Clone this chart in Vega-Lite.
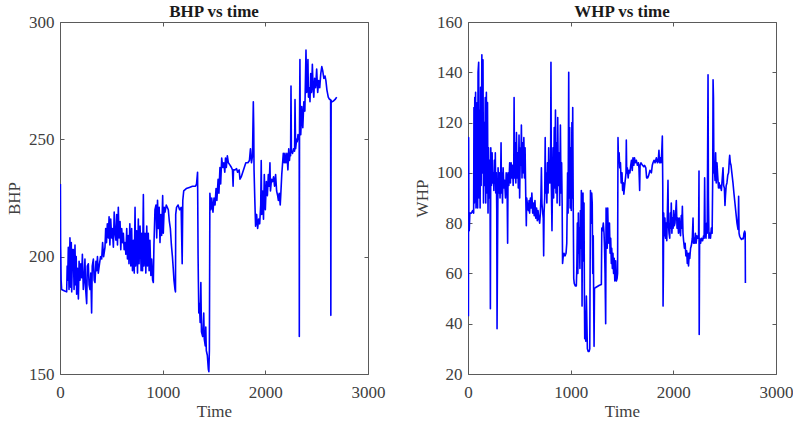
{
  "$schema": "https://vega.github.io/schema/vega-lite/v6.json",
  "background": "white",
  "padding": {"left": 5, "top": 2, "right": 0, "bottom": 3},
  "spacing": 100,
  "bounds": "flush",
  "config": {
    "font": "Liberation Serif",
    "view": {"stroke": "#5a5a5a", "strokeWidth": 1},
    "title": {"font": "Liberation Serif", "fontSize": 17, "fontWeight": "bold", "color": "#1a1a1a", "offset": -8, "frame": "group", "baseline": "alphabetic"},
    "axis": {
      "grid": false, "domain": false, "ticks": true, "tickSize": -4, "tickColor": "#5a5a5a", "tickWidth": 1,
      "labelFont": "Liberation Serif", "labelFontSize": 17, "labelColor": "#404040",
      "labelFlush": false, "labelOverlap": false, "minExtent": 0, "format": "d",
      "titleFont": "Liberation Serif", "titleFontSize": 17, "titleFontWeight": "normal", "titleColor": "#404040"
    },
    "axisX": {"labelPadding": 14, "titlePadding": 3},
    "axisY": {"labelPadding": 10, "titlePadding": 5}
  },
  "datasets": {
    "bhp": [
      {"t":4,"v":231},{"t":6,"v":205},{"t":8,"v":200},{"t":11,"v":190},{"t":16,"v":186},{"t":40,"v":185.5},{"t":65,"v":185},{"t":70,"v":196},{"t":75,"v":190},{"t":81,"v":204},{"t":88,"v":186},{"t":97,"v":208},{"t":104,"v":187},{"t":110,"v":206},{"t":114,"v":185},{"t":122,"v":203},{"t":130,"v":203},{"t":137,"v":186},{"t":146,"v":205},{"t":152,"v":188},{"t":158,"v":200},{"t":162,"v":184},{"t":170,"v":195},{"t":179,"v":182},{"t":186,"v":198},{"t":195,"v":190},{"t":203,"v":197},{"t":211,"v":191},{"t":218,"v":201},{"t":227,"v":186},{"t":235,"v":190},{"t":243,"v":199},{"t":250,"v":186},{"t":260,"v":180},{"t":266,"v":196},{"t":276,"v":197},{"t":283,"v":188},{"t":292,"v":186},{"t":300,"v":193},{"t":308,"v":176},{"t":314,"v":196},{"t":325,"v":199},{"t":333,"v":190},{"t":341,"v":189},{"t":350,"v":198},{"t":357,"v":194},{"t":365,"v":200},{"t":373,"v":193},{"t":385,"v":197},{"t":395,"v":200},{"t":406,"v":199},{"t":415,"v":206},{"t":425,"v":200},{"t":438,"v":204},{"t":445,"v":212},{"t":453,"v":206},{"t":461,"v":214},{"t":471,"v":208},{"t":478,"v":217},{"t":486,"v":205},{"t":494,"v":216},{"t":503,"v":208},{"t":510,"v":212},{"t":520,"v":204},{"t":528,"v":219},{"t":536,"v":210},{"t":545,"v":207},{"t":552,"v":218},{"t":560,"v":205},{"t":568,"v":221},{"t":575,"v":208},{"t":585,"v":215},{"t":592,"v":203},{"t":601,"v":212},{"t":610,"v":206},{"t":617,"v":210},{"t":625,"v":203},{"t":633,"v":206},{"t":642,"v":201},{"t":650,"v":212},{"t":657,"v":199},{"t":666,"v":209},{"t":672,"v":197},{"t":680,"v":214},{"t":690,"v":196},{"t":698,"v":212},{"t":706,"v":194},{"t":715,"v":207},{"t":723,"v":193},{"t":731,"v":221},{"t":737,"v":196},{"t":747,"v":211},{"t":755,"v":193},{"t":763,"v":216},{"t":770,"v":197},{"t":780,"v":213},{"t":790,"v":194},{"t":796,"v":210},{"t":804,"v":194},{"t":812,"v":226.5},{"t":818,"v":196},{"t":828,"v":210},{"t":836,"v":193},{"t":845,"v":213},{"t":852,"v":196},{"t":860,"v":210},{"t":868,"v":194},{"t":876,"v":207},{"t":885,"v":192},{"t":893,"v":199},{"t":902,"v":190},{"t":909,"v":189},{"t":915,"v":205},{"t":925,"v":220},{"t":935,"v":222},{"t":942,"v":208},{"t":950,"v":224},{"t":958,"v":212},{"t":966,"v":221},{"t":974,"v":206},{"t":982,"v":218},{"t":990,"v":209},{"t":1000,"v":226},{"t":1006,"v":210},{"t":1015,"v":221},{"t":1023,"v":219},{"t":1035,"v":222},{"t":1045,"v":221},{"t":1055,"v":220},{"t":1065,"v":215},{"t":1075,"v":212},{"t":1085,"v":205},{"t":1095,"v":200},{"t":1103,"v":195},{"t":1110,"v":190},{"t":1120,"v":186},{"t":1125,"v":185},{"t":1127,"v":218},{"t":1135,"v":221},{"t":1150,"v":222},{"t":1165,"v":220},{"t":1180,"v":221},{"t":1190,"v":197},{"t":1196,"v":224},{"t":1205,"v":228},{"t":1230,"v":229},{"t":1260,"v":229.5},{"t":1290,"v":230},{"t":1320,"v":230},{"t":1330,"v":231},{"t":1340,"v":236},{"t":1345,"v":200},{"t":1348,"v":189},{"t":1352,"v":176},{"t":1358,"v":180},{"t":1365,"v":172},{"t":1372,"v":189},{"t":1378,"v":168},{"t":1390,"v":166},{"t":1400,"v":176},{"t":1405,"v":165},{"t":1415,"v":162},{"t":1420,"v":170},{"t":1425,"v":160},{"t":1435,"v":158},{"t":1445,"v":152},{"t":1450,"v":151},{"t":1455,"v":160},{"t":1460,"v":227},{"t":1470,"v":220},{"t":1478,"v":225},{"t":1490,"v":219},{"t":1500,"v":225},{"t":1510,"v":222},{"t":1520,"v":229},{"t":1528,"v":224},{"t":1540,"v":233},{"t":1548,"v":227},{"t":1558,"v":238},{"t":1565,"v":231},{"t":1575,"v":242},{"t":1585,"v":238},{"t":1595,"v":240},{"t":1605,"v":236},{"t":1612,"v":242},{"t":1620,"v":238},{"t":1630,"v":243},{"t":1640,"v":240},{"t":1656,"v":239},{"t":1670,"v":238},{"t":1680,"v":237},{"t":1686,"v":230},{"t":1690,"v":237},{"t":1705,"v":237},{"t":1720,"v":237.5},{"t":1730,"v":236},{"t":1745,"v":237},{"t":1753,"v":233},{"t":1765,"v":234},{"t":1780,"v":236},{"t":1795,"v":238},{"t":1810,"v":240},{"t":1830,"v":240},{"t":1845,"v":241},{"t":1855,"v":246},{"t":1865,"v":240},{"t":1875,"v":243},{"t":1883,"v":266},{"t":1887,"v":255},{"t":1890,"v":237},{"t":1897,"v":225},{"t":1905,"v":213},{"t":1915,"v":218},{"t":1925,"v":212},{"t":1935,"v":216},{"t":1945,"v":214},{"t":1955,"v":222},{"t":1960,"v":241},{"t":1965,"v":218},{"t":1975,"v":228},{"t":1982,"v":216},{"t":1990,"v":235},{"t":2000,"v":220},{"t":2010,"v":232},{"t":2020,"v":226},{"t":2029,"v":235},{"t":2037,"v":230},{"t":2045,"v":240},{"t":2050,"v":228},{"t":2060,"v":233},{"t":2070,"v":232},{"t":2080,"v":234},{"t":2090,"v":230},{"t":2100,"v":235},{"t":2110,"v":228},{"t":2120,"v":226},{"t":2127,"v":224},{"t":2135,"v":227},{"t":2145,"v":222},{"t":2150,"v":226},{"t":2160,"v":235},{"t":2175,"v":244},{"t":2185,"v":240},{"t":2191,"v":244},{"t":2200,"v":240},{"t":2210,"v":244},{"t":2220,"v":237},{"t":2228,"v":246},{"t":2235,"v":241},{"t":2240,"v":244},{"t":2246,"v":243},{"t":2250,"v":272.7},{"t":2254,"v":245},{"t":2265,"v":244},{"t":2275,"v":246},{"t":2285,"v":245},{"t":2289,"v":267},{"t":2295,"v":246},{"t":2305,"v":250},{"t":2311,"v":249},{"t":2318,"v":252},{"t":2325,"v":250},{"t":2330,"v":250},{"t":2331,"v":166},{"t":2333,"v":255},{"t":2337,"v":284},{"t":2340,"v":260},{"t":2345,"v":252},{"t":2355,"v":264},{"t":2365,"v":255},{"t":2375,"v":266},{"t":2385,"v":262},{"t":2396,"v":288},{"t":2403,"v":270},{"t":2410,"v":275},{"t":2415,"v":284},{"t":2420,"v":268},{"t":2428,"v":272},{"t":2435,"v":266},{"t":2442,"v":278},{"t":2450,"v":270},{"t":2458,"v":282},{"t":2465,"v":272},{"t":2472,"v":268},{"t":2480,"v":276},{"t":2490,"v":272},{"t":2500,"v":280},{"t":2510,"v":270},{"t":2520,"v":275},{"t":2530,"v":272},{"t":2540,"v":278},{"t":2550,"v":281},{"t":2560,"v":279},{"t":2570,"v":276},{"t":2581,"v":277},{"t":2590,"v":275},{"t":2600,"v":271},{"t":2613,"v":268},{"t":2625,"v":267},{"t":2636,"v":267},{"t":2638,"v":175},{"t":2641,"v":266.5},{"t":2650,"v":266},{"t":2662,"v":266.3},{"t":2680,"v":267},{"t":2695,"v":268}
    ],
    "whp": [
      {"t":4,"v":43},{"t":6,"v":114},{"t":9,"v":78},{"t":12,"v":77},{"t":18,"v":84},{"t":33,"v":84},{"t":45,"v":85},{"t":55,"v":84},{"t":58,"v":126},{"t":62,"v":88},{"t":66,"v":130},{"t":70,"v":90},{"t":74,"v":132},{"t":78,"v":86},{"t":82,"v":120},{"t":86,"v":92},{"t":90,"v":128},{"t":94,"v":86},{"t":98,"v":140},{"t":104,"v":144},{"t":108,"v":90},{"t":113,"v":125},{"t":118,"v":86},{"t":123,"v":134},{"t":128,"v":95},{"t":135,"v":147},{"t":140,"v":100},{"t":146,"v":145},{"t":151,"v":88},{"t":157,"v":120},{"t":163,"v":95},{"t":168,"v":130},{"t":173,"v":88},{"t":179,"v":132},{"t":184,"v":92},{"t":190,"v":128},{"t":195,"v":84},{"t":200,"v":110},{"t":206,"v":90},{"t":211,"v":105},{"t":215,"v":92},{"t":218,"v":46},{"t":222,"v":110},{"t":228,"v":95},{"t":235,"v":108},{"t":240,"v":96},{"t":247,"v":100},{"t":252,"v":93},{"t":257,"v":105},{"t":262,"v":96},{"t":266,"v":108},{"t":270,"v":92},{"t":276,"v":100},{"t":280,"v":85},{"t":283,"v":38},{"t":287,"v":65},{"t":293,"v":102},{"t":300,"v":92},{"t":306,"v":100},{"t":312,"v":90},{"t":318,"v":98},{"t":322,"v":112},{"t":326,"v":92},{"t":330,"v":100},{"t":336,"v":88},{"t":342,"v":102},{"t":350,"v":94},{"t":357,"v":97},{"t":365,"v":90},{"t":372,"v":100},{"t":380,"v":98},{"t":386,"v":72},{"t":390,"v":100},{"t":398,"v":95},{"t":406,"v":104},{"t":413,"v":96},{"t":420,"v":104},{"t":428,"v":98},{"t":435,"v":103},{"t":440,"v":95},{"t":446,"v":104},{"t":449,"v":130},{"t":453,"v":98},{"t":460,"v":112},{"t":466,"v":96},{"t":472,"v":116},{"t":478,"v":98},{"t":485,"v":108},{"t":490,"v":94},{"t":497,"v":115},{"t":503,"v":90},{"t":510,"v":110},{"t":515,"v":103},{"t":520,"v":119},{"t":526,"v":98},{"t":532,"v":112},{"t":538,"v":100},{"t":544,"v":114},{"t":550,"v":98},{"t":556,"v":110},{"t":562,"v":92},{"t":568,"v":79},{"t":572,"v":90},{"t":580,"v":87},{"t":588,"v":85},{"t":595,"v":89},{"t":600,"v":84},{"t":608,"v":90},{"t":615,"v":86},{"t":622,"v":92},{"t":630,"v":84},{"t":638,"v":88},{"t":645,"v":83},{"t":652,"v":89},{"t":660,"v":82},{"t":668,"v":86},{"t":675,"v":81},{"t":682,"v":85},{"t":690,"v":82},{"t":698,"v":80},{"t":705,"v":84},{"t":710,"v":90},{"t":715,"v":102},{"t":720,"v":88},{"t":728,"v":84},{"t":733,"v":82},{"t":737,"v":67},{"t":741,"v":84},{"t":747,"v":90},{"t":752,"v":114},{"t":756,"v":92},{"t":762,"v":100},{"t":768,"v":88},{"t":774,"v":104},{"t":780,"v":92},{"t":786,"v":110},{"t":792,"v":96},{"t":798,"v":105},{"t":804,"v":96},{"t":808,"v":144},{"t":812,"v":95},{"t":818,"v":77},{"t":822,"v":92},{"t":828,"v":110},{"t":834,"v":90},{"t":840,"v":118},{"t":845,"v":94},{"t":852,"v":125},{"t":857,"v":92},{"t":863,"v":112},{"t":868,"v":88},{"t":874,"v":122},{"t":880,"v":95},{"t":886,"v":108},{"t":893,"v":87},{"t":900,"v":119},{"t":906,"v":92},{"t":912,"v":104},{"t":917,"v":88},{"t":921,"v":64},{"t":928,"v":67},{"t":935,"v":68},{"t":945,"v":67},{"t":955,"v":68},{"t":962,"v":72},{"t":970,"v":100},{"t":975,"v":84},{"t":981,"v":140},{"t":985,"v":90},{"t":990,"v":118},{"t":995,"v":86},{"t":1000,"v":110},{"t":1006,"v":85},{"t":1012,"v":120},{"t":1016,"v":90},{"t":1020,"v":126},{"t":1025,"v":86},{"t":1030,"v":58},{"t":1035,"v":56},{"t":1045,"v":55},{"t":1055,"v":55},{"t":1060,"v":62},{"t":1065,"v":80},{"t":1070,"v":60},{"t":1075,"v":84},{"t":1080,"v":68},{"t":1085,"v":78},{"t":1090,"v":62},{"t":1095,"v":85},{"t":1100,"v":70},{"t":1104,"v":93},{"t":1108,"v":80},{"t":1111,"v":47},{"t":1115,"v":80},{"t":1120,"v":92},{"t":1125,"v":65},{"t":1130,"v":88},{"t":1134,"v":50},{"t":1137,"v":34},{"t":1142,"v":45},{"t":1147,"v":33},{"t":1153,"v":51},{"t":1158,"v":40},{"t":1163,"v":30},{"t":1170,"v":29},{"t":1180,"v":29},{"t":1186,"v":30},{"t":1193,"v":93},{"t":1200,"v":80},{"t":1205,"v":92},{"t":1210,"v":88},{"t":1215,"v":60},{"t":1220,"v":75},{"t":1225,"v":45},{"t":1228,"v":31},{"t":1232,"v":54},{"t":1240,"v":54.3},{"t":1260,"v":54.8},{"t":1280,"v":55.3},{"t":1299,"v":55.6},{"t":1303,"v":78},{"t":1310,"v":77},{"t":1318,"v":80},{"t":1325,"v":76},{"t":1330,"v":70},{"t":1335,"v":60},{"t":1338,"v":50},{"t":1341,"v":40},{"t":1345,"v":86},{"t":1350,"v":80},{"t":1356,"v":70},{"t":1361,"v":86},{"t":1366,"v":76},{"t":1372,"v":72},{"t":1378,"v":80},{"t":1384,"v":68},{"t":1390,"v":74},{"t":1396,"v":64},{"t":1400,"v":70},{"t":1406,"v":62},{"t":1412,"v":68},{"t":1418,"v":60},{"t":1424,"v":66},{"t":1430,"v":57},{"t":1438,"v":65},{"t":1445,"v":57},{"t":1452,"v":58},{"t":1457,"v":60},{"t":1461,"v":114},{"t":1466,"v":104},{"t":1472,"v":108},{"t":1478,"v":102},{"t":1485,"v":104},{"t":1492,"v":96},{"t":1500,"v":100},{"t":1506,"v":93},{"t":1512,"v":96},{"t":1518,"v":91.5},{"t":1526,"v":95},{"t":1534,"v":98},{"t":1539,"v":100},{"t":1542,"v":113},{"t":1546,"v":100},{"t":1552,"v":102},{"t":1560,"v":98},{"t":1568,"v":101},{"t":1577,"v":100},{"t":1585,"v":103},{"t":1592,"v":105},{"t":1600,"v":101},{"t":1607,"v":106},{"t":1615,"v":103},{"t":1622,"v":106},{"t":1630,"v":104},{"t":1640,"v":105},{"t":1650,"v":103},{"t":1660,"v":104},{"t":1665,"v":102},{"t":1672,"v":93},{"t":1676,"v":103},{"t":1685,"v":104},{"t":1700,"v":103},{"t":1712,"v":102.5},{"t":1720,"v":103},{"t":1732,"v":102},{"t":1740,"v":98},{"t":1750,"v":98},{"t":1760,"v":99},{"t":1772,"v":101},{"t":1786,"v":100},{"t":1795,"v":103},{"t":1802,"v":104},{"t":1812,"v":105},{"t":1822,"v":104},{"t":1835,"v":106},{"t":1845,"v":104},{"t":1853,"v":105},{"t":1860,"v":109},{"t":1865,"v":104},{"t":1872,"v":106},{"t":1880,"v":104},{"t":1887,"v":108},{"t":1893,"v":114.6},{"t":1897,"v":95},{"t":1900,"v":47},{"t":1903,"v":60},{"t":1906,"v":84},{"t":1912,"v":75},{"t":1918,"v":82},{"t":1924,"v":74},{"t":1930,"v":80},{"t":1936,"v":73},{"t":1942,"v":84},{"t":1948,"v":97},{"t":1952,"v":80},{"t":1958,"v":76},{"t":1965,"v":74},{"t":1970,"v":84},{"t":1976,"v":78},{"t":1980,"v":88},{"t":1986,"v":76},{"t":1992,"v":82},{"t":1998,"v":78},{"t":2004,"v":85},{"t":2010,"v":79},{"t":2016,"v":80},{"t":2022,"v":84},{"t":2029,"v":89},{"t":2036,"v":78},{"t":2043,"v":82},{"t":2050,"v":76},{"t":2058,"v":82},{"t":2062,"v":78},{"t":2070,"v":75},{"t":2077,"v":83},{"t":2082,"v":78},{"t":2088,"v":86.7},{"t":2094,"v":76},{"t":2100,"v":73},{"t":2108,"v":70},{"t":2115,"v":72},{"t":2122,"v":67},{"t":2130,"v":69},{"t":2136,"v":64},{"t":2142,"v":68},{"t":2148,"v":63},{"t":2155,"v":68},{"t":2160,"v":66},{"t":2168,"v":70},{"t":2175,"v":71},{"t":2185,"v":74},{"t":2192,"v":82},{"t":2196,"v":72},{"t":2202,"v":74},{"t":2208,"v":72},{"t":2215,"v":76},{"t":2222,"v":72},{"t":2230,"v":75},{"t":2240,"v":74},{"t":2246,"v":75},{"t":2250,"v":100.7},{"t":2252,"v":35.7},{"t":2256,"v":74},{"t":2265,"v":72},{"t":2275,"v":74},{"t":2285,"v":73},{"t":2295,"v":75},{"t":2300,"v":74},{"t":2305,"v":98},{"t":2310,"v":76},{"t":2318,"v":74},{"t":2325,"v":80},{"t":2330,"v":76},{"t":2338,"v":139},{"t":2342,"v":90},{"t":2347,"v":74},{"t":2355,"v":76},{"t":2362,"v":74},{"t":2370,"v":78},{"t":2378,"v":76},{"t":2384,"v":100},{"t":2387,"v":137},{"t":2391,"v":130},{"t":2395,"v":100},{"t":2400,"v":102},{"t":2406,"v":97},{"t":2412,"v":108},{"t":2418,"v":96},{"t":2425,"v":104},{"t":2432,"v":99},{"t":2440,"v":94},{"t":2446,"v":96},{"t":2452,"v":94},{"t":2460,"v":95},{"t":2468,"v":93},{"t":2475,"v":97},{"t":2484,"v":102},{"t":2490,"v":95},{"t":2497,"v":94},{"t":2503,"v":87},{"t":2508,"v":91},{"t":2515,"v":95},{"t":2522,"v":96},{"t":2530,"v":99},{"t":2538,"v":100},{"t":2545,"v":105},{"t":2549,"v":107},{"t":2555,"v":104},{"t":2562,"v":103},{"t":2570,"v":100},{"t":2581,"v":96},{"t":2590,"v":92},{"t":2600,"v":88},{"t":2610,"v":84},{"t":2620,"v":80},{"t":2630,"v":77.5},{"t":2633,"v":82},{"t":2636,"v":90.7},{"t":2640,"v":76},{"t":2646,"v":74.8},{"t":2655,"v":74},{"t":2665,"v":73.5},{"t":2675,"v":74},{"t":2682,"v":73.8},{"t":2688,"v":76},{"t":2695,"v":76.8},{"t":2700,"v":76},{"t":2702,"v":56.2}
    ]
  },
  "hconcat": [
    {
      "title": "BHP vs time",
      "width": 308, "height": 352,
      "data": {"name": "bhp"},
      "resolve": {"axis": {"x": "independent", "y": "independent"}},
      "layer": [
        {
          "mark": {"type": "line", "color": "#0000ff", "strokeWidth": 1.6, "strokeJoin": "round", "clip": true},
          "encoding": {
            "x": {"field": "t", "type": "quantitative", "scale": {"domain": [0, 3000], "nice": false}, "axis": {"orient": "bottom", "title": "Time", "values": [0, 1000, 2000, 3000]}},
            "y": {"field": "v", "type": "quantitative", "scale": {"domain": [150, 300], "nice": false, "zero": false}, "axis": {"orient": "left", "title": "BHP", "values": [150, 200, 250, 300]}}
          }
        },
        {
          "mark": {"type": "line", "opacity": 0},
          "encoding": {
            "x": {"field": "t", "type": "quantitative", "axis": {"orient": "top", "title": null, "labels": false, "values": [0, 1000, 2000, 3000]}},
            "y": {"field": "v", "type": "quantitative", "axis": {"orient": "right", "title": null, "labels": false, "values": [150, 200, 250, 300]}}
          }
        }
      ]
    },
    {
      "title": "WHP vs time",
      "width": 308, "height": 352,
      "data": {"name": "whp"},
      "resolve": {"axis": {"x": "independent", "y": "independent"}},
      "layer": [
        {
          "mark": {"type": "line", "color": "#0000ff", "strokeWidth": 1.6, "strokeJoin": "round", "clip": true},
          "encoding": {
            "x": {"field": "t", "type": "quantitative", "scale": {"domain": [0, 3000], "nice": false}, "axis": {"orient": "bottom", "title": "Time", "values": [0, 1000, 2000, 3000]}},
            "y": {"field": "v", "type": "quantitative", "scale": {"domain": [20, 160], "nice": false, "zero": false}, "axis": {"orient": "left", "title": "WHP", "values": [20, 40, 60, 80, 100, 120, 140, 160]}}
          }
        },
        {
          "mark": {"type": "line", "opacity": 0},
          "encoding": {
            "x": {"field": "t", "type": "quantitative", "axis": {"orient": "top", "title": null, "labels": false, "values": [0, 1000, 2000, 3000]}},
            "y": {"field": "v", "type": "quantitative", "axis": {"orient": "right", "title": null, "labels": false, "values": [20, 40, 60, 80, 100, 120, 140, 160]}}
          }
        }
      ]
    }
  ]
}
